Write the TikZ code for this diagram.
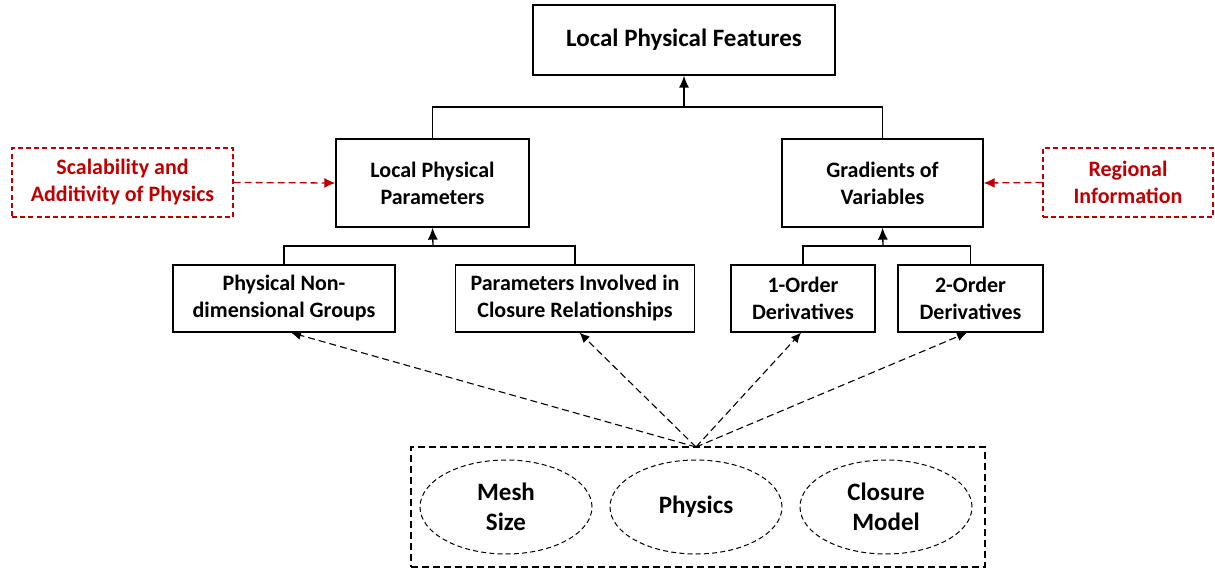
\documentclass[tikz,border=0pt]{standalone}
\usepackage{fontspec}
\setmainfont{Carlito}
\usetikzlibrary{arrows.meta,calc,shapes.geometric}
\definecolor{darkred}{RGB}{192,0,0}
\begin{document}
\begin{tikzpicture}[x=0.5pt,y=-0.5pt,
  box/.style={draw,line width=0.65pt,rectangle,align=center,inner sep=0pt,
    font=\fontsize{11}{13.5}\selectfont\bfseries},
  notebox/.style={draw=darkred,dashed,dash pattern=on 2.5pt off 1.6pt,line width=0.6pt,
    rectangle,align=center,inner sep=0pt,text=darkred,
    font=\fontsize{11}{13.5}\selectfont\bfseries},
  oval/.style={draw,ellipse,dash pattern=on 2.5pt off 1.6pt,line width=0.5pt,
    minimum width=86pt,minimum height=47pt,inner sep=0pt,align=center,
    font=\fontsize{12.5}{15}\selectfont\bfseries},
  tree/.style={line width=0.65pt},
  up/.style={line width=0.65pt,-{Latex[length=6pt,width=5pt]}},
  feed/.style={line width=0.55pt,dash pattern=on 3.5pt off 2pt,-{Latex[length=5pt,width=4.5pt]}},
  note/.style={line width=0.65pt,darkred,dash pattern=on 3.5pt off 2pt,-{Latex[length=5.5pt,width=5pt]}}]
\useasboundingbox (0,0) rectangle (1215,571);

% top level
\node[box,minimum width=151pt,minimum height=35pt,font=\fontsize{12.5}{15}\selectfont\bfseries]
  (top) at (684,40) {Local Physical Features};

% second level
\node[box,minimum width=96.5pt,minimum height=44pt] (lpp) at (432.5,183) {Local Physical\\Parameters};
\node[box,minimum width=100.5pt,minimum height=44pt] (grad) at (882.5,183) {Gradients of\\Variables};

% side notes
\node[notebox,minimum width=110.5pt,minimum height=34.5pt] (scal) at (122.5,182.5) {Scalability and\\Additivity of Physics};
\node[notebox,minimum width=85pt,minimum height=34.5pt] (reg) at (1128,182.5) {Regional\\Information};

% third level
\node[box,minimum width=111pt,minimum height=33.5pt] (png) at (284,298.5) {Physical Non-\\dimensional Groups};
\node[box,minimum width=119.5pt,minimum height=33.5pt] (pic) at (575,298.5) {Parameters Involved in\\Closure Relationships};
\node[box,minimum width=72pt,minimum height=33.5pt] (o1) at (803,298.5) {1-Order\\Derivatives};
\node[box,minimum width=72.5pt,minimum height=33.5pt] (o2) at (970.5,298.5) {2-Order\\Derivatives};

% source group
\node[draw,rectangle,dash pattern=on 3.5pt off 2pt,line width=0.55pt,
  minimum width=287pt,minimum height=60pt,inner sep=0pt] (src) at (698,507) {};
\node[oval] (mesh) at (506,507) {Mesh\\Size};
\node[oval] (phys) at (696,507) {Physics};
\node[oval] (clos) at (886,507) {Closure\\Model};

% tree connectors
\coordinate (j1) at (684,107);
\coordinate (j2) at (433,246);
\coordinate (j3) at (883,246);
\draw[tree] (lpp.north) |- (j1) -| (grad.north);
\draw[up] (j1) -- (top.south);
\draw[tree] (png.north) |- (j2) -| (pic.north);
\draw[up] (j2) -- (lpp.south);
\draw[tree] (o1.north) |- (j3) -| (o2.north);
\draw[up] (j3) -- (grad.south);

% side note arrows
\draw[note] (scal.east) -- (lpp.west);
\draw[note] (reg.west) -- (grad.east);

% fan-out from the source group
\coordinate (apex) at (696,447);
\draw[feed] (apex) -- ($(png.south)+(7,0)$);
\draw[feed] (apex) -- ($(pic.south)+(4.5,0)$);
\draw[feed] (apex) -- ($(o1.south)+(-2,0)$);
\draw[feed] (apex) -- ($(o2.south)+(-3.5,0)$);
\end{tikzpicture}
\end{document}
